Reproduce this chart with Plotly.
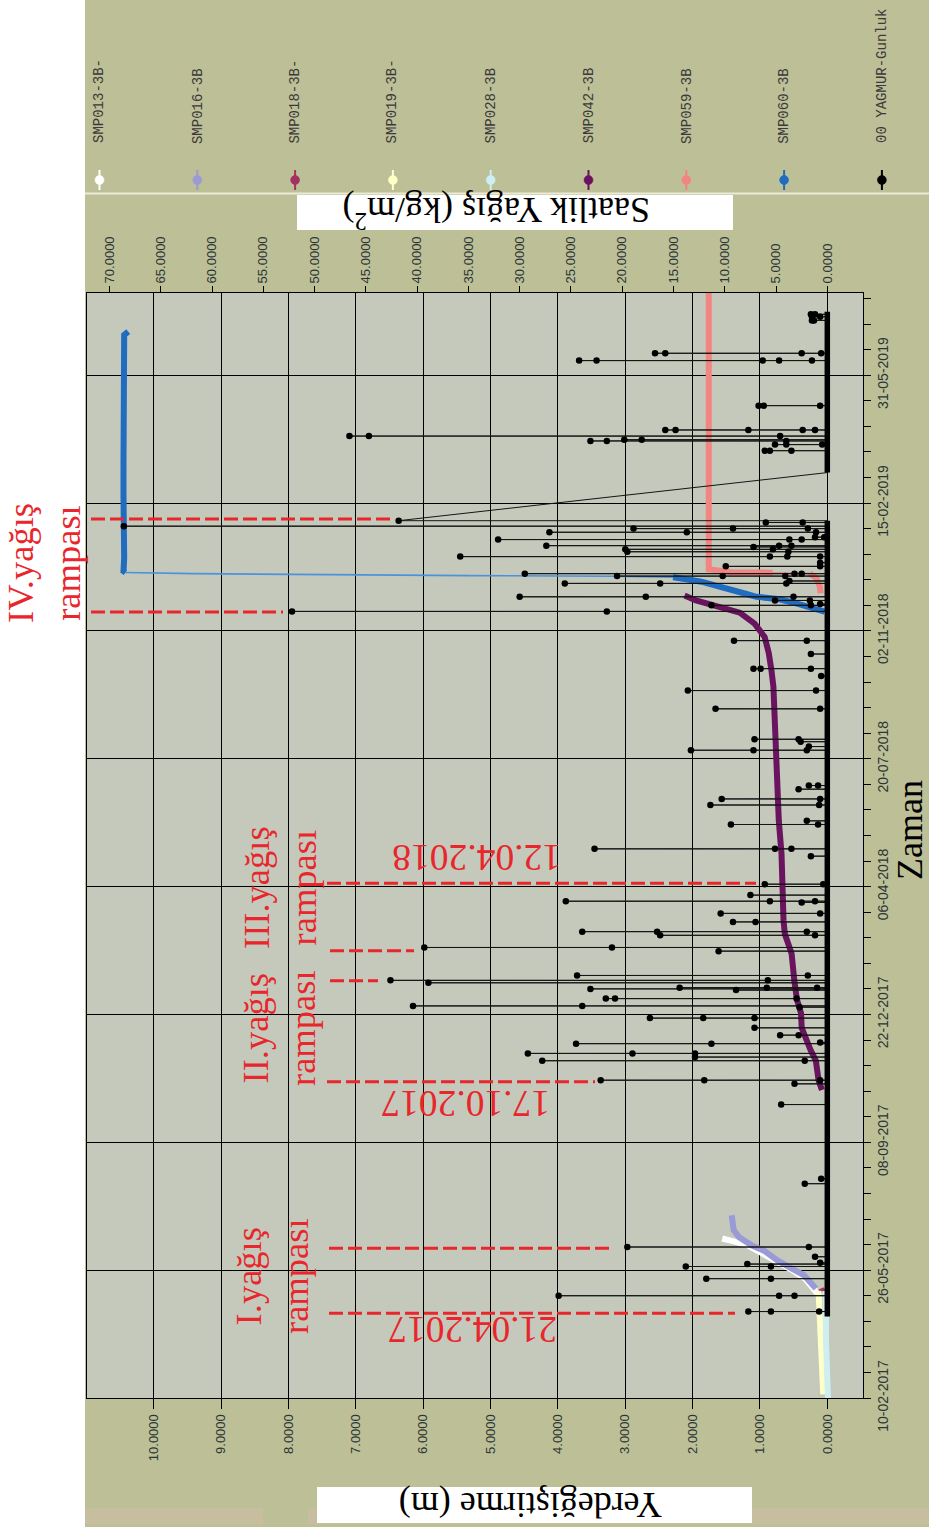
import plotly.graph_objects as go
import pandas as pd

# ---------------- DATA ----------------
# hourly rain (kg/m2): event dates and the readings of each event
rain_dates = [
    "2017-04-18", "2017-04-22", "2017-05-05", "2017-05-19", "2017-05-29", "2017-05-31",
    "2017-06-01", "2017-06-06", "2017-06-14", "2017-08-05", "2017-08-09", "2017-10-09",
    "2017-10-26", "2017-10-29", "2017-11-14", "2017-11-17", "2017-11-20", "2017-11-28",
    "2017-11-29", "2017-12-05", "2017-12-11", "2017-12-19", "2017-12-28", "2017-12-29",
    "2018-01-04", "2018-01-11", "2018-01-12", "2018-01-13", "2018-01-17", "2018-01-19",
    "2018-01-23", "2018-02-12", "2018-02-15", "2018-02-25", "2018-02-28", "2018-03-08",
    "2018-03-15", "2018-03-24", "2018-03-25", "2018-03-30", "2018-04-08", "2018-05-01",
    "2018-05-07", "2018-05-27", "2018-05-30", "2018-06-12", "2018-06-17", "2018-06-25",
    "2018-06-28", "2018-07-27", "2018-07-30", "2018-08-03", "2018-08-05", "2018-08-30",
    "2018-09-14", "2018-09-26", "2018-10-02", "2018-10-14", "2018-10-25", "2018-11-18",
    "2018-11-23", "2018-11-24", "2018-11-27", "2018-11-30", "2018-12-11", "2018-12-13",
    "2018-12-17", "2018-12-19", "2018-12-25", "2018-12-28", "2019-01-02", "2019-01-06",
    "2019-01-08", "2019-01-10", "2019-01-11", "2019-01-16", "2019-01-18", "2019-01-22",
    "2019-01-25", "2019-01-27", "2019-01-30", "2019-01-31 12:00", "2019-03-12", "2019-03-30",
    "2019-04-04", "2019-04-07", "2019-04-08", "2019-04-11", "2019-04-16", "2019-05-06",
    "2019-06-12", "2019-06-18", "2019-07-15", "2019-07-18", "2019-07-20", "2019-07-22",
]
rain_mm = [
    [0], [7.7, 5.5, 0.8], [26.2, 4.7, 3.2], [11.8, 5.5], [13.8, 5.5], [7.8],
    [0.7], [1.2], [19.5, 1.8], [2.2], [0.6], [4.5],
    [3.2], [22.1, 12.0, 0.7], [27.8, 2.2], [12.9], [29.2, 19.0, 12.9], [24.5, 11.3],
    [0.7], [4.6, 2.8], [7.1], [17.3, 12.1, 7.1], [2.7], [40.4, 23.9],
    [21.6, 20.7, 3.0], [8.9], [23.1], [14.4, 5.9, 1.0], [38.9], [42.6, 5.8],
    [24.4, 1.9], [10.6], [39.3, 21.0], [16.3, 1.2], [23.9, 16.6, 2.0], [9.2, 7.0],
    [10.4, 0.7], [2.5], [25.5, 5.6, 1.2], [7.5], [6.1, 0.4], [1.6],
    [22.7, 5.1, 3.5], [9.4, 0.9], [2.0], [11.4, 0.8], [10.3, 0.7], [2.8],
    [1.8, 0.9], [13.3, 7.2, 2.0], [1.8], [2.6], [7.1, 2.8], [10.9, 0.7],
    [13.6, 1.1], [0.6], [7.2, 6.5, 1.6], [1.6], [9.1, 2.0], [52.2, 21.5],
    [11.3, 1.6], [0.7], [5.1, 1.7], [30.0, 17.7, 3.3], [25.6, 16.3, 4.0], [3.7],
    [20.5, 10.2, 4.1], [29.5, 3.2, 2.5], [9.9, 0.7], [0.7], [35.8, 5.6, 3.9, 0.7], [19.5, 3.8],
    [19.7, 5.3], [7.2], [27.4, 4.7, 3.5], [32.1, 3.7, 2.5], [1.2, 0.3], [27.1, 13.7, 1.1],
    [18.9, 9.2, 1.9], [68.6], [6.0, 2.4], [41.8], [0], [6.1, 5.6, 3.5],
    [5.1, 4.0, 0.5], [23.1, 21.5, 4.0], [19.8, 18.1], [46.6, 44.7, 4.6], [15.8, 14.8, 7.7, 2.4, 1.2], [6.7, 6.2, 0.7],
    [24.2, 22.5, 6.3, 4.7, 1.5], [16.8, 15.8, 2.5, 0.6], [1.5, 1.3], [1.5, 0.7], [1.6, 1.2], [0],
]
rain_gap_after = "2019-01-31 12:00"   # logger gap after this reading

# displacement (m)
smp013_t = ["2017-05-07", "2017-05-12", "2017-05-19", "2017-05-26", "2017-06-02",
            "2017-06-07", "2017-06-13", "2017-06-16", "2017-06-19", "2017-06-21"]
smp013_v = [0.15, 0.22, 0.33, 0.52, 0.74, 0.88, 1.07, 1.20, 1.42, 1.56]

smp016_t = ["2017-05-11", "2017-05-16", "2017-05-22", "2017-05-27", "2017-06-03",
            "2017-06-11", "2017-06-15", "2017-06-22", "2017-06-28", "2017-07-10"]
smp016_v = [0.17, 0.25, 0.35, 0.52, 0.74, 0.94, 1.11, 1.31, 1.39, 1.42]

smp018_t = ["2017-05-08", "2017-05-11"]
smp018_v = [0.07, 0.09]

smp019_t = ["2017-02-13", "2017-02-25", "2017-03-17", "2017-04-07", "2017-04-23", "2017-05-09"]
smp019_v = [0.06, 0.07, 0.08, 0.09, 0.11, 0.13]

smp028_t = ["2017-02-10", "2017-02-21", "2017-03-09", "2017-03-30", "2017-04-18", "2017-05-09"]
smp028_v = [-0.01, 0.00, 0.01, 0.02, 0.02, 0.03]

smp042_t = ["2017-10-21", "2017-10-29", "2017-11-06", "2017-11-14", "2017-11-23", "2017-12-01",
            "2017-12-11", "2017-12-23", "2018-01-03", "2018-01-19", "2018-01-30", "2018-02-10",
            "2018-02-18", "2018-02-26", "2018-03-09", "2018-03-26", "2018-04-05", "2018-05-03",
            "2018-05-30", "2018-06-26", "2018-07-24", "2018-08-20", "2018-09-17", "2018-10-01",
            "2018-10-15", "2018-10-28", "2018-11-08", "2018-11-17", "2018-11-20", "2018-11-23",
            "2018-11-27", "2018-12-01"]
smp042_v = [0.08, 0.13, 0.15, 0.17, 0.25, 0.31, 0.38, 0.39, 0.45, 0.49, 0.51, 0.53,
            0.58, 0.63, 0.65, 0.66, 0.66, 0.68, 0.72, 0.74, 0.76, 0.77, 0.80, 0.83,
            0.87, 0.93, 1.08, 1.30, 1.50, 1.75, 1.95, 2.12]

smp059_t = ["2018-12-02 22:00", "2018-12-08 07:00", "2018-12-15 05:00", "2018-12-19 07:00",
            "2018-12-19 19:00", "2018-12-20 00:00", "2018-12-20 05:00", "2018-12-21 12:00",
            "2018-12-22 14:00", "2019-02-15", "2019-05-01", "2019-07-04", "2019-07-10",
            "2019-07-22", "2019-08-06 12:00"]
smp059_v = [0.10, 0.11, 0.16, 0.26, 0.81, 1.20, 1.43, 1.60, 1.76, 1.76, 1.76, 1.74, 1.76, 1.75, 1.76]

smp060_t = ["2018-11-17 18:00", "2018-11-22", "2018-11-24 16:00", "2018-11-28", "2018-11-30",
            "2018-12-02 07:00", "2018-12-05 14:00", "2018-12-08 07:00", "2018-12-12 10:00",
            "2018-12-14 10:00", "2018-12-16", "2018-12-16 22:00", "2018-12-17 10:00",
            "2018-12-18 05:00", "2018-12-19", "2018-12-19 22:00", "2018-12-21", "2019-01-01",
            "2019-01-20", "2019-02-20", "2019-03-20", "2019-04-20", "2019-05-20", "2019-06-20",
            "2019-07-03", "2019-07-05 18:00"]
smp060_v = [0.04, 0.26, 0.46, 0.71, 1.05, 1.20, 1.40, 1.57, 1.87, 2.09, 2.29, 3.20, 5.30,
            7.40, 9.40, 10.42, 10.45, 10.44, 10.45, 10.45, 10.45, 10.45, 10.45, 10.45, 10.44, 10.38]

series_names = ["SMP013-3B-", "SMP016-3B", "SMP018-3B-", "SMP019-3B-", "SMP028-3B",
                "SMP042-3B", "SMP059-3B", "SMP060-3B", "00 YAGMUR-Gunluk"]
series_colors = ["#FFFFFF", "#9A9AD6", "#A3305E", "#FFFFC8", "#CDEFF2",
                 "#6A145F", "#F28482", "#1F6CC0", "#000000"]

disp_x_ticks = list(range(0, 11))
rain_x_ticks = list(range(0, 75, 5))

# ---------------- GEOMETRY HELPERS ----------------
W, H = 929, 1527
L, R, T, B = 87, 863, 293, 1398


def PX(x):
    return (x - L) / (R - L)


def PY(y):
    return (B - y) / (B - T)


fig = go.Figure()

# ---------------- RAIN PATH ----------------
assert len(rain_dates) == len(rain_mm)
events = sorted(zip(pd.to_datetime(rain_dates, format="ISO8601"), rain_mm), key=lambda e: e[0])
half = pd.Timedelta(minutes=30)
gap_t = pd.Timestamp(rain_gap_after)
path_t, path_v, base_t, base_v, mk_t, mk_v = [], [], [], [], [], []
for t, vals in events:
    vmax = max(vals)
    if vmax == 0:
        path_t.append(t); path_v.append(0)
        base_t.append(t); base_v.append(0)
        continue
    path_t += [t - half, t]
    path_v += [0, vmax]
    base_t.append(t - half); base_v.append(0)
    if t == gap_t:
        base_t.append(None); base_v.append(None)
    else:
        path_t.append(t + half); path_v.append(0)
        base_t.append(t + half); base_v.append(0)
    for v in vals:
        mk_t.append(t); mk_v.append(v)

fig.add_trace(go.Scatter(x=path_v, y=path_t, xaxis="x2", yaxis="y", mode="lines",
                         line=dict(color="#151515", width=1), hoverinfo="skip", showlegend=False))

# ---------------- DISPLACEMENT SERIES ----------------
disp = [(smp013_t, smp013_v), (smp016_t, smp016_v), (smp018_t, smp018_v), (smp019_t, smp019_v),
        (smp028_t, smp028_v), (smp042_t, smp042_v), (smp059_t, smp059_v), (smp060_t, smp060_v)]
thin_colors = {7: "#4A92DC", 6: "#F28482"}
for i, (ts, vs) in enumerate(disp):
    col = series_colors[i]
    thick_t, thick_v, thin_t, thin_v = [], [], [], []
    for k in range(len(vs)):
        if k > 0 and abs(vs[k] - vs[k - 1]) > 0.5:
            thick_t += [None, ts[k]]; thick_v += [None, vs[k]]
            thin_t += [ts[k - 1], ts[k], None]; thin_v += [vs[k - 1], vs[k], None]
        else:
            thick_t.append(ts[k]); thick_v.append(vs[k])
    if thin_t:
        fig.add_trace(go.Scatter(x=thin_v, y=thin_t, mode="lines", xaxis="x", yaxis="y",
                                 line=dict(color=thin_colors.get(i, col), width=1.6),
                                 hoverinfo="skip", showlegend=False))
    fig.add_trace(go.Scatter(x=thick_v, y=thick_t, mode="lines", xaxis="x", yaxis="y",
                             line=dict(color=col, width=6), hoverinfo="skip",
                             showlegend=False, name=series_names[i]))

# rain baseline and markers on top
fig.add_trace(go.Scatter(x=base_v, y=base_t, xaxis="x2", yaxis="y", mode="lines",
                         line=dict(color="#000000", width=5.5), connectgaps=False,
                         hoverinfo="skip", showlegend=False))
fig.add_trace(go.Scatter(x=mk_v, y=mk_t, xaxis="x2", yaxis="y", mode="markers",
                         marker=dict(color="#000000", size=6.5), hoverinfo="skip",
                         showlegend=False, name=series_names[8]))

# ---------------- LAYOUT ----------------
DAY = 86400000
tick_font = dict(size=13, color="#2a3636", family="Liberation Sans")
fig.update_layout(
    template="none",
    width=W, height=H,
    margin=dict(l=L, r=W - R, t=T, b=H - B, pad=0),
    paper_bgcolor="#BDBF97",
    plot_bgcolor="#C4C9BB",
    font=dict(family="Liberation Sans", color="#2a3636"),
    showlegend=False,
    xaxis=dict(range=[10.992, -0.53], tickmode="array", tickvals=disp_x_ticks,
               tickformat=".4f", tickangle=-90, ticks="outside", ticklen=10,
               tickcolor="black", tickwidth=1, showgrid=True, gridcolor="black",
               gridwidth=1, zeroline=False, showline=True, linecolor="black",
               linewidth=1, mirror=True, tickfont=tick_font, automargin=False),
    xaxis2=dict(overlaying="x", side="top", anchor="y", range=[72.19, -3.48],
                tickmode="array", tickvals=rain_x_ticks, tickformat=".4f",
                tickangle=-90, ticks="outside", ticklen=6, tickcolor="black",
                showgrid=False, zeroline=False, showline=False, tickfont=tick_font,
                automargin=False),
    yaxis=dict(type="date", side="right", range=["2017-02-10", "2019-08-06 12:00"],
               tick0="2017-02-10", dtick=105 * DAY, tickformat="%d-%m-%Y",
               tickangle=-90, ticks="outside", ticklen=7, tickcolor="black",
               showgrid=True, gridcolor="black", gridwidth=1, zeroline=False,
               showline=True, linecolor="black", linewidth=1, mirror=True,
               tickfont=dict(size=14, color="#2a3636", family="Liberation Sans"),
               automargin=False,
               minor=dict(tick0="2017-02-10", dtick=21 * DAY, ticks="outside",
                          ticklen=7, tickcolor="black", showgrid=False)),
)

RED = "#E8262B"
shapes = []
# white left strip
shapes.append(dict(type="rect", xref="paper", yref="paper", x0=PX(-5), x1=PX(85),
                   y0=PY(H + 5), y1=PY(-5), fillcolor="white", line_width=0, layer="below"))
# tan band at bottom
shapes.append(dict(type="rect", xref="paper", yref="paper", x0=PX(85), x1=PX(263),
                   y0=PY(1524), y1=PY(1508), fillcolor="#C6BE9E", line_width=0, layer="below"))
shapes.append(dict(type="rect", xref="paper", yref="paper", x0=PX(308), x1=PX(W),
                   y0=PY(1524), y1=PY(1508), fillcolor="#C6BE9E", line_width=0, layer="below"))
# legend separator
shapes.append(dict(type="line", xref="paper", yref="paper", x0=PX(85), x1=PX(W + 5),
                   y0=PY(193.5), y1=PY(193.5), line=dict(color="#ECECD6", width=2)))
# title boxes
shapes.append(dict(type="rect", xref="paper", yref="paper", x0=PX(297), x1=PX(733),
                   y0=PY(230), y1=PY(195), fillcolor="white", line_width=0))
shapes.append(dict(type="rect", xref="paper", yref="paper", x0=PX(317), x1=PX(752),
                   y0=PY(1523), y1=PY(1487), fillcolor="white", line_width=0))
# legend markers
for i, col in enumerate(series_colors):
    cx = 99.5 + 97.8 * i
    shapes.append(dict(type="line", xref="paper", yref="paper", x0=PX(cx), x1=PX(cx),
                       y0=PY(190), y1=PY(170), line=dict(color=col, width=2)))
    shapes.append(dict(type="circle", xref="paper", yref="paper", x0=PX(cx - 4.5), x1=PX(cx + 4.5),
                       y0=PY(184.5), y1=PY(175.5), fillcolor=col, line=dict(color=col, width=0.5)))
# red dashed rampa lines (pixel y, x start, x end)
for yy, xa, xb in [(519, 91, 390), (612, 91, 283), (883.3, 327, 756), (950.7, 330, 414),
                   (980.7, 330, 378), (1081.7, 327, 595), (1248.3, 329, 610), (1313.3, 329, 735)]:
    shapes.append(dict(type="line", xref="paper", yref="paper", x0=PX(xa), x1=PX(xb),
                       y0=PY(yy), y1=PY(yy), line=dict(color=RED, width=3, dash="14px,5px")))
fig.update_layout(shapes=shapes)


def ann(text, x, y, size, color, angle, family):
    return dict(text=text, x=PX(x), y=PY(y), xref="paper", yref="paper", showarrow=False,
                xanchor="center", yanchor="middle", textangle=angle,
                font=dict(size=size, color=color, family=family))


anns = []
for i, name in enumerate(series_names):
    cx = 99.5 + 97.8 * i
    anns.append(ann(name, cx, 144 - 8.5 * len(name) / 2, 14, "#3a3a3a", -90, "Liberation Mono"))
SERIF = "Liberation Serif"
anns.append(ann("Saatlik Yağış (kg/m<sup>2</sup>)", 496, 213, 36, "black", 180, SERIF))
anns.append(ann("Yerdeğiştirme (m)", 531, 1505, 36, "black", 180, SERIF))
anns.append(ann("Zaman", 910, 830, 36, "black", -90, SERIF))
anns.append(ann("IV.yağış<br>rampası", 44, 563, 36.5, RED, -90, SERIF))
anns.append(ann("III.yağış<br>rampası", 280, 888, 36.5, RED, -90, SERIF))
anns.append(ann("II.yağış<br>rampası", 279, 1028, 36.5, RED, -90, SERIF))
anns.append(ann("I.yağış<br>rampası", 272, 1276, 36.5, RED, -90, SERIF))
anns.append(ann("12.04.2018", 477, 858, 37.5, RED, 180, SERIF))
anns.append(ann("17.10.2017", 466, 1104, 37.5, RED, 180, SERIF))
anns.append(ann("21.04.2017", 473, 1330, 37.5, RED, 180, SERIF))
fig.update_layout(annotations=anns)

fig.write_html("out.html", config={"displayModeBar": False},
               post_script="document.body.style.margin='0';")
